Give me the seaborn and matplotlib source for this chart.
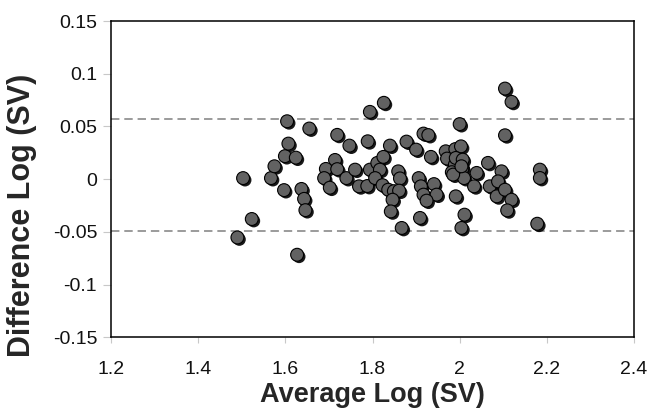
import numpy as np
import pandas as pd
import matplotlib
matplotlib.use('Agg')
import matplotlib.pyplot as plt
import matplotlib.patheffects as pe
import seaborn as sns

# ============================================================
# Data
# ============================================================
avg_log_sv = [
    1.490, 1.503, 1.523, 1.567, 1.575, 1.599, 1.607, 1.604, 1.624, 1.597,
    1.637, 1.643, 1.646, 1.627, 1.655, 1.719, 1.747, 1.714, 1.693, 1.719,
    1.689, 1.740, 1.760, 1.702, 1.769, 1.788, 1.794, 1.826, 1.789, 1.794,
    1.811, 1.817, 1.806, 1.823, 1.825, 1.840, 1.878, 1.900, 1.917, 1.928,
    1.934, 1.859, 1.863, 1.836, 1.849, 1.861, 1.846, 1.842, 1.867, 1.906,
    1.911, 1.941, 1.917, 1.947, 1.924, 1.909, 1.968, 1.990, 2.003, 1.971,
    1.989, 1.982, 2.006, 2.010, 1.985, 1.991, 2.011, 2.004, 2.000, 2.039,
    2.033, 2.065, 2.096, 2.069, 2.088, 2.085, 2.104, 2.119, 2.109, 2.104,
    2.119, 2.104, 2.184, 2.184, 2.178, 1.991, 2.007, 2.004,
]
diff_log_sv = [
    -0.0553, 0.0010, -0.0378, 0.0010, 0.0122, 0.0218, 0.0337, 0.0549, 0.0204, -0.0104,
    -0.0093, -0.0187, -0.0294, -0.0717, 0.0480, 0.0420, 0.0318, 0.0182, 0.0097, 0.0095,
    0.0010, 0.0010, 0.0090, -0.0081, -0.0068, -0.0065, 0.0638, 0.0724, 0.0359, 0.0090,
    0.0154, 0.0090, 0.0010, -0.0057, 0.0211, 0.0318, 0.0356, 0.0280, 0.0432, 0.0418,
    0.0211, 0.0074, 0.0007, -0.0100, -0.0114, -0.0109, -0.0195, -0.0306, -0.0463, 0.0010,
    -0.0068, -0.0047, -0.0147, -0.0147, -0.0204, -0.0368, 0.0264, 0.0285, 0.0311, 0.0195,
    0.0138, 0.0066, 0.0100, 0.0010, 0.0043, -0.0163, -0.0337, -0.0463, 0.0522, 0.0059,
    -0.0068, 0.0154, 0.0074, -0.0068, -0.0021, -0.0163, -0.0100, -0.0195, -0.0296, 0.0859,
    0.0733, 0.0416, 0.0090, 0.0011, -0.0423, 0.0201, 0.0185, 0.0122,
]
limits_of_agreement = [0.0575, -0.0496]

x_ticks = [1.2, 1.4, 1.6, 1.8, 2.0, 2.2, 2.4]
x_tick_labels = ['1.2', '1.4', '1.6', '1.8', '2', '2.2', '2.4']
y_ticks = [0.15, 0.1, 0.05, 0.0, -0.05, -0.1, -0.15]
y_tick_labels = ['0.15', '0.1', '0.05', '0', '-0.05', '-0.1', '-0.15']

df = pd.DataFrame({'avg': avg_log_sv, 'diff': diff_log_sv})

# ============================================================
# Style
# ============================================================
sns.set_style('white')
plt.rcParams['font.family'] = ['Liberation Sans', 'DejaVu Sans']

fig = plt.figure(figsize=(6.5, 4.11), dpi=100)
ax = fig.add_axes([0.1708, 0.1793, 0.8046, 0.7696])

# Limits of agreement
for loa in limits_of_agreement:
    ax.axhline(loa, color='#808080', linewidth=1.1, dashes=(5.5, 3.2), zorder=1)

# Scatter with drop shadow like the original spreadsheet chart
sns.scatterplot(
    data=df, x='avg', y='diff', ax=ax,
    s=86, color='#626262', edgecolor='black', linewidth=0.8,
    zorder=3, legend=False,
)
for coll in ax.collections:
    coll.set_path_effects([
        pe.SimplePatchShadow(offset=(1.4, -1.4), shadow_rgbFace='black', alpha=0.9),
        pe.Normal(),
    ])

ax.set_xlim(1.2, 2.4)
ax.set_ylim(-0.15, 0.15)
ax.set_xticks(x_ticks)
ax.set_xticklabels(x_tick_labels)
ax.set_yticks(y_ticks)
ax.set_yticklabels(y_tick_labels)

ax.tick_params(axis='x', direction='out', length=4, width=0.8, color='#c8c8c8',
               pad=13, labelsize=14, labelcolor='#111111')
ax.tick_params(axis='y', direction='out', length=6, width=0.8, color='#c8c8c8',
               pad=4, labelsize=14, labelcolor='#111111')
ax.tick_params(bottom=True, left=True)

for side in ['top', 'bottom', 'left', 'right']:
    ax.spines[side].set_visible(True)
    ax.spines[side].set_color('black')
    ax.spines[side].set_linewidth(1.1)

ax.set_xlabel('Average Log (SV)', fontsize=19.5, fontweight='bold', labelpad=3)
ax.set_ylabel('Difference Log (SV)', fontsize=22, fontweight='bold')
ax.yaxis.set_label_coords(-0.142, 0.385)
ax.grid(False)

plt.savefig('out.png', dpi=100)
plt.close()
